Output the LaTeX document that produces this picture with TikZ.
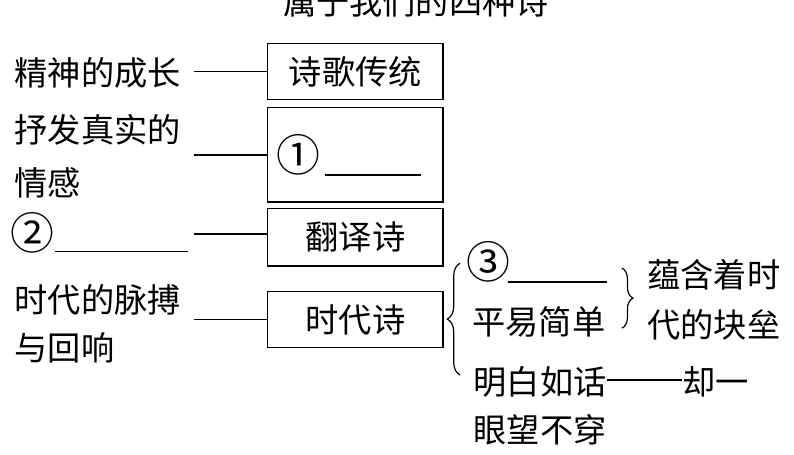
\documentclass[tikz,border=0pt]{standalone}
\usepackage{fontspec}
\newfontfamily\cjk{Noto Sans CJK SC}
\usetikzlibrary{decorations.pathreplacing}
\begin{document}
\begin{tikzpicture}[scale=1, line width=0.9pt,
  txt/.style={font=\cjk\fontsize{25}{30}\selectfont, inner sep=0pt, anchor=west},
  quan/.style={font=\cjk\fontsize{33}{36}\selectfont, inner sep=0pt},
  kuang/.style={draw, font=\cjk\fontsize{25}{30}\selectfont, minimum width=4.63cm, minimum height=1.5cm, inner sep=0pt},
  kuohao/.style={decorate, decoration={brace, amplitude=#1}}]
\useasboundingbox (0,-12.01) rectangle (21,0);
\node[txt, anchor=center] (biaoti) at (11,-0.05) {属于我们的四种诗};

\node[kuang] (shi1) at (9.40,-1.89) {诗歌传统};
\node[kuang, minimum height=2.51cm] (shi2) at (9.40,-4.09) {};
\node[kuang, minimum height=1.53cm] (shi3) at (9.40,-6.27) {翻译诗};
\node[kuang, minimum height=1.48cm] (shi4) at (9.40,-8.46) {时代诗};
\node[quan] (quan1) at (7.88,-4.10) {①};
\draw (8.60,-4.63) -- (11.13,-4.63);

\node[txt] (jingshen) at (0.37,-1.93) {精神的成长};
\node[txt] (shufa) at (0.37,-3.44) {抒发真实的};
\node[txt] (qinggan) at (0.37,-4.84) {情感};
\node[quan] (quan2) at (0.85,-6.16) {②};
\draw (1.45,-6.66) -- (4.97,-6.66);
\node[txt] (shidai) at (0.37,-7.93) {时代的脉搏};
\node[txt] (huixiang) at (0.37,-9.20) {与回响};

\coordinate (a1) at (5.13,-1.90);
\coordinate (a2) at (5.13,-4.10);
\coordinate (a3) at (5.13,-6.19);
\coordinate (a4) at (5.13,-8.46);
\draw (a1) -- (a1 -| shi1.west);
\draw (a2) -- (a2 -| shi2.west);
\draw (a3) -- (a3 -| shi3.west);
\draw (a4) -- (a4 -| shi4.west);

\draw[kuohao=0.34cm] (12.17,-9.92) -- (12.17,-6.96);
\node[quan] (quan3) at (12.91,-6.93) {③};
\draw (13.44,-7.46) -- (16.05,-7.46);
\node[txt] (pingyi) at (12.48,-8.52) {平易简单};
\draw[kuohao=0.29cm] (16.45,-7.09) -- (16.45,-8.68);
\node[txt] (yunhan) at (17.11,-7.27) {蕴含着时};
\node[txt] (kuailei) at (17.11,-8.60) {代的块垒};
\node[txt] (mingbai) at (12.51,-10.10) {明白如话};
\node[txt] (queyi) at (18.04,-10.10) {却一};
\draw ([yshift=0.05cm]mingbai.east) -- ([yshift=0.05cm]queyi.west);
\node[txt] (yanwang) at (12.51,-11.37) {眼望不穿};
\end{tikzpicture}
\end{document}
